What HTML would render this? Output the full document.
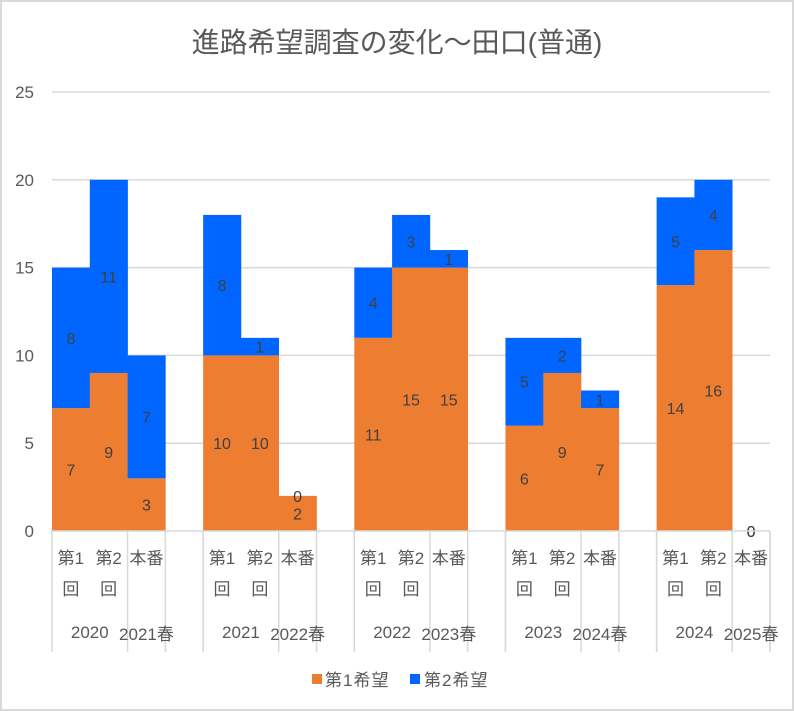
<!DOCTYPE html>
<html><head><meta charset="utf-8">
<style>
html,body{margin:0;padding:0;background:#fff;}
svg{display:block;font-family:"Liberation Sans","Noto Sans CJK JP",sans-serif;}
</style></head>
<body>
<svg id="chart" width="794" height="711" viewBox="0 0 794 711">
<rect x="1" y="1" width="792" height="709" fill="#fff" stroke="#d9d9d9" stroke-width="2"/>
<text x="397" y="52" text-anchor="middle" font-size="28" fill="#595959">進路希望調査の変化～田口(普通)</text>
<g id="grid"></g><g id="bars"></g><g id="labels"></g><g id="axis"></g>
<g>
<rect x="312" y="674" width="10" height="10" fill="#ED7D31"/>
<text x="325" y="686" font-size="17" letter-spacing="1" fill="#595959">第1希望</text>
<rect x="410" y="674" width="10" height="10" fill="#0066FF"/>
<text x="424" y="686" font-size="17" letter-spacing="1" fill="#595959">第2希望</text>
</g>
</svg>
<script>
const groupYears = ["2020","2021","2022","2023","2024"];
const groupSpring = ["2021春","2022春","2023春","2024春","2025春"];
const barLabels = ["第1","第2","本番"];
const first = [[7,9,3],[10,10,2],[11,15,15],[6,9,7],[14,16,0]];
const second = [[8,11,7],[8,1,0],[4,3,1],[5,2,1],[5,4,0]];
const yTicks = [0,5,10,15,20,25];

const NS="http://www.w3.org/2000/svg";
const X0=52, X1=770, Y0=531, YT=92, YMAX=25;
const slot=(X1-X0)/19;
function y(v){return Y0-(v/YMAX)*(Y0-YT);}
function slotX(g,b){return X0+(g*4+b)*slot;}
function mk(tag,attrs,parent){const e=document.createElementNS(NS,tag);for(const k in attrs)e.setAttribute(k,attrs[k]);parent.appendChild(e);return e;}
const grid=document.getElementById('grid'),bars=document.getElementById('bars'),labels=document.getElementById('labels'),axis=document.getElementById('axis');

yTicks.forEach(t=>{
  if(t>0){const l=mk('line',{x1:X0,x2:X1,y1:y(t),y2:y(t),stroke:'#d9d9d9','stroke-width':1.5},grid);
  
  }
  const tx=mk('text',{x:34,y:y(t)+6,'text-anchor':'end','font-size':17,fill:'#595959'},axis);
  tx.textContent=t;
  
  
});

first.forEach((arr,g)=>{
  arr.forEach((v1,b)=>{
    const v2=second[g][b];
    const x=slotX(g,b);
    const r1=mk('rect',{x:x,y:y(v1),width:slot+0.3,height:Y0-y(v1),fill:'#ED7D31'},bars);
    
    
    const r2=mk('rect',{x:x,y:y(v1+v2),width:slot+0.3,height:y(v1)-y(v1+v2),fill:'#0066FF'},bars);
    
    
    const cx=x+slot/2;
    const t1=mk('text',{x:cx,y:(Y0+y(v1))/2+6,'text-anchor':'middle','font-size':16,fill:'#404040'},labels);
    t1.textContent=v1;
    
    
    const t2=mk('text',{x:cx,y:(y(v1)+y(v1+v2))/2+6,'text-anchor':'middle','font-size':16,fill:'#404040'},labels);
    t2.textContent=v2;
    
    
  });
});

const al=mk('line',{x1:X0-1,x2:X1,y1:Y0,y2:Y0,stroke:'#d9d9d9','stroke-width':1.5},axis);


for(let g=0;g<5;g++){
  const xs=[slotX(g,0),slotX(g,2),slotX(g,3)];
  if(g<4) xs.push(slotX(g,4)); else xs.push(X1);
  xs.forEach((xx)=>{
    const l=mk('line',{x1:xx,x2:xx,y1:Y0,y2:652,stroke:'#d9d9d9','stroke-width':1.5},axis);
    
    
  });
  barLabels.forEach((lb,b)=>{
    const cx=slotX(g,b)+slot/2;
    const t=mk('text',{x:cx,y:564,'text-anchor':'middle','font-size':17,fill:'#595959'},axis);
    t.textContent=lb;
    
    
    if(b<2){const t2=mk('text',{x:cx,y:595,'text-anchor':'middle','font-size':17,fill:'#595959'},axis);
    t2.textContent='回';
    
    }
  });
  const ty=mk('text',{x:slotX(g,1),y:638,'text-anchor':'middle','font-size':17,fill:'#595959'},axis);
  ty.textContent=groupYears[g];
  
  
  const ts=mk('text',{x:slotX(g,2)+slot/2,y:640,'text-anchor':'middle','font-size':17,fill:'#595959'},axis);
  ts.textContent=groupSpring[g];
  
  
}
</script>
</body></html>
